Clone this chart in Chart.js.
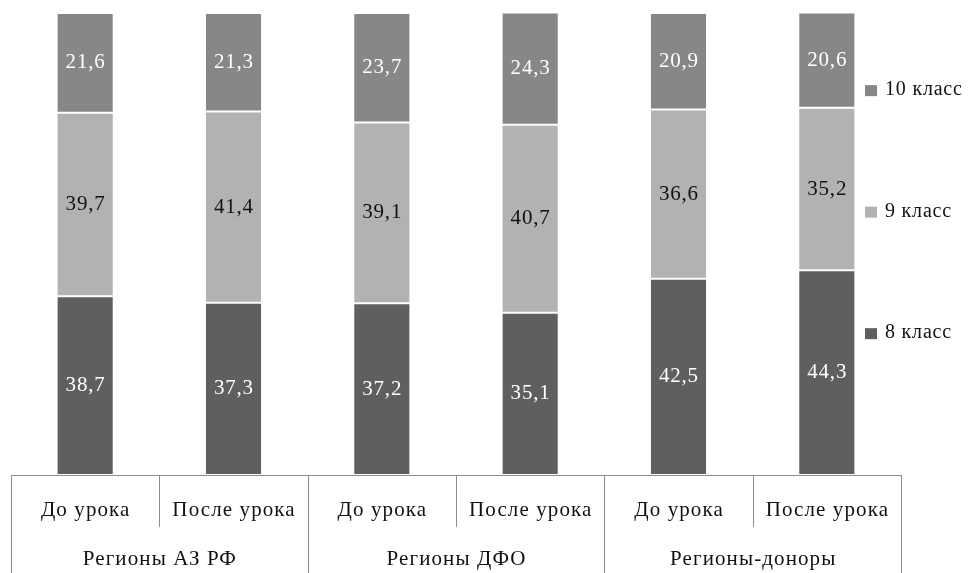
<!DOCTYPE html>
<html>
<head>
<meta charset="utf-8">
<script src="https://cdn.jsdelivr.net/npm/chart.js@4.4.0/dist/chart.umd.min.js"></script>
<style>
  body { margin: 0; background: #fff; }
  #wrap { width: 969px; height: 573px; position: relative; }
</style>
</head>
<body>
<div id="wrap"><canvas id="myChart"></canvas></div>
<script>
// data
const subLabels = ['До урока', 'После урока', 'До урока', 'После урока', 'До урока', 'После урока'];
const groupLabels = ['Регионы АЗ РФ', 'Регионы ДФО', 'Регионы-доноры'];
const grade8 = [38.7, 37.3, 37.2, 35.1, 42.5, 44.3];
const grade9 = [39.7, 41.4, 39.1, 40.7, 36.6, 35.2];
const grade10 = [21.6, 21.3, 23.7, 24.3, 20.9, 20.6];

const FONT = '"Liberation Serif", "DejaVu Serif", serif';
const colors = ['#5f5f5f', '#b2b2b2', '#878787'];
const labelColors = ['#ffffff', '#111111', '#ffffff'];

const fmt = v => v.toFixed(1).replace('.', ',');

// centred text that ignores the trailing letter spacing
function spacedText(ctx, text, x, y, spacing) {
    ctx.letterSpacing = spacing + 'px';
    ctx.fillText(text, x + spacing / 2, y);
    ctx.letterSpacing = '0px';
}

// values printed in the middle of each segment
const segLabels = {
    id: 'segLabels',
    afterDatasetsDraw(chart) {
        const ctx = chart.ctx;
        ctx.save();
        ctx.font = '21px ' + FONT;
        ctx.textAlign = 'center';
        ctx.textBaseline = 'middle';
        chart.data.datasets.forEach((ds, i) => {
            chart.getDatasetMeta(i).data.forEach((bar, j) => {
                ctx.fillStyle = labelColors[i];
                spacedText(ctx, fmt(ds.data[j]), bar.x, (bar.y + bar.base) / 2, 0.8);
            });
        });
        ctx.restore();
    }
};

// two-level category axis drawn as a table
const tableAxis = {
    id: 'tableAxis',
    afterDraw(chart) {
        const ctx = chart.ctx;
        const x = chart.scales.x;
        const area = chart.chartArea;
        const top = area.bottom;
        const bottom = chart.height;
        const mid = top + 52;
        const step = x.getPixelForValue(1) - x.getPixelForValue(0);
        const edge = i => x.getPixelForValue(i) - step / 2;

        ctx.save();
        ctx.strokeStyle = '#8c8c8c';
        ctx.lineWidth = 1;
        ctx.beginPath();
        ctx.moveTo(edge(0), top + 0.5);
        ctx.lineTo(edge(subLabels.length), top + 0.5);
        for (let i = 0; i <= subLabels.length; i++) {
            const px = Math.round(edge(i)) + 0.5;
            ctx.moveTo(px, top);
            ctx.lineTo(px, i % 2 === 0 ? bottom : mid);
        }
        ctx.stroke();

        ctx.fillStyle = '#111';
        ctx.font = '21px ' + FONT;
        ctx.textAlign = 'center';
        ctx.textBaseline = 'middle';
        subLabels.forEach((t, i) => spacedText(ctx, t, x.getPixelForValue(i), top + 35, 1.1));
        groupLabels.forEach((t, g) => spacedText(ctx, t, edge(g * 2 + 1), top + 84, 1.1));
        ctx.restore();
    }
};

// legend spread down the right side
const sideLegend = {
    id: 'sideLegend',
    afterDraw(chart) {
        const ctx = chart.ctx;
        const area = chart.chartArea;
        const h = area.bottom - area.top;
        const spots = [0.693, 0.43, 0.167];
        const x0 = area.right - 36;
        ctx.save();
        ctx.font = '20px ' + FONT;
        ctx.textBaseline = 'middle';
        ctx.textAlign = 'left';
        chart.data.datasets.forEach((ds, i) => {
            const y = area.top + h * spots[i];
            ctx.fillStyle = colors[i];
            ctx.fillRect(x0, y - 5, 12, 11);
            ctx.fillStyle = '#111';
            ctx.letterSpacing = '0.8px';
            ctx.fillText(ds.label, x0 + 20, y);
            ctx.letterSpacing = '0px';
        });
        ctx.restore();
    }
};

new Chart(
    document.getElementById('myChart').getContext('2d'), {
        type: 'bar',
        data: {
            labels: subLabels,
            datasets: [
                { label: '8 класс', data: grade8, backgroundColor: colors[0] },
                { label: '9 класс', data: grade9, backgroundColor: colors[1] },
                { label: '10 класс', data: grade10, backgroundColor: colors[2] }
            ]
        },
        options: {
            responsive: true,
            maintainAspectRatio: false,
            animation: false,
            layout: { padding: { left: 11, right: 68, top: 13, bottom: 98 } },
            datasets: {
                bar: {
                    categoryPercentage: 1,
                    barPercentage: 0.385,
                    borderColor: '#ffffff',
                    borderWidth: 1,
                    borderSkipped: false
                }
            },
            scales: {
                x: { stacked: true, display: false },
                y: { stacked: true, display: false, min: 0, max: 100 }
            },
            plugins: {
                legend: { display: false },
                title: { display: false },
                tooltip: { enabled: false }
            }
        },
        plugins: [segLabels, tableAxis, sideLegend]
    }
);
</script>
</body>
</html>
